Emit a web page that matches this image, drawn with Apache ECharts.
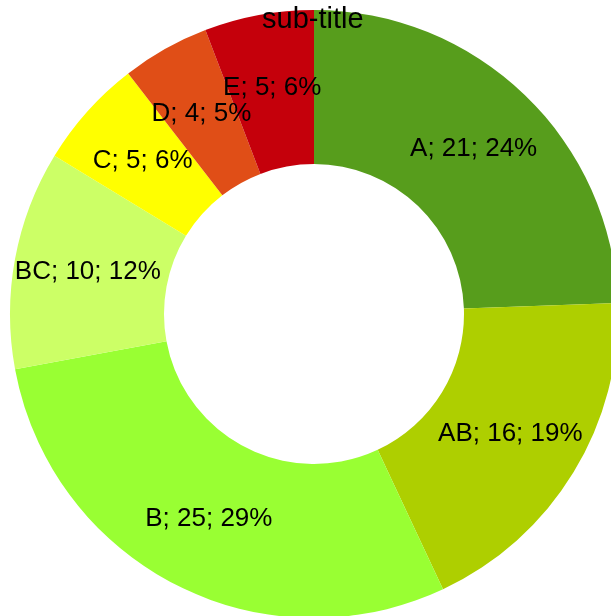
<!DOCTYPE html>
<html>
<head>
<meta charset="utf-8">
<style>
  html, body { margin: 0; padding: 0; background: #fff; }
  #chart { width: 611px; height: 616px; }
</style>
<script src="https://cdn.jsdelivr.net/npm/echarts@6/dist/echarts.min.js"></script>
</head>
<body>
<div id="chart"></div>
<script>
// 数据
var categories = ['A', 'AB', 'B', 'BC', 'C', 'D', 'E'];
var values = [21, 16, 25, 10, 5, 4, 5];
var colors = ['#579d1c', '#aecf00', '#99ff33', '#ccff66', '#ffff00', '#e04e17', '#c5000b'];

var total = values.reduce(function (s, v) { return s + v; }, 0);

var chart = echarts.init(document.getElementById('chart'));
chart.setOption({
    animation: false,
    textStyle: { fontFamily: 'Liberation Sans' },
    title: {
        text: 'sub-title',
        left: 257,
        top: 0,
        textStyle: { fontSize: 29, fontWeight: 'normal', color: '#000', fontFamily: 'Liberation Sans' }
    },
    series: [{
        type: 'pie',
        center: [314, 314],
        radius: [150, 304],
        startAngle: 90,
        clockwise: true,
        avoidLabelOverlap: false,
        labelLayout: { hideOverlap: false },
        z: 1,
        label: {
            position: 'inside',
            color: '#000',
            fontSize: 26,
            fontFamily: 'Liberation Sans',
            formatter: function (p) {
                // 百分比自己算，不要让echarts做凑整
                return p.name + '; ' + p.value + '; ' + Math.round(p.value / total * 100) + '%';
            }
        },
        labelLine: { show: false },
        itemStyle: { borderWidth: 0 },
        data: categories.map(function (c, i) {
            return { name: c, value: values[i], itemStyle: { color: colors[i] } };
        })
    }]
});
</script>
</body>
</html>
